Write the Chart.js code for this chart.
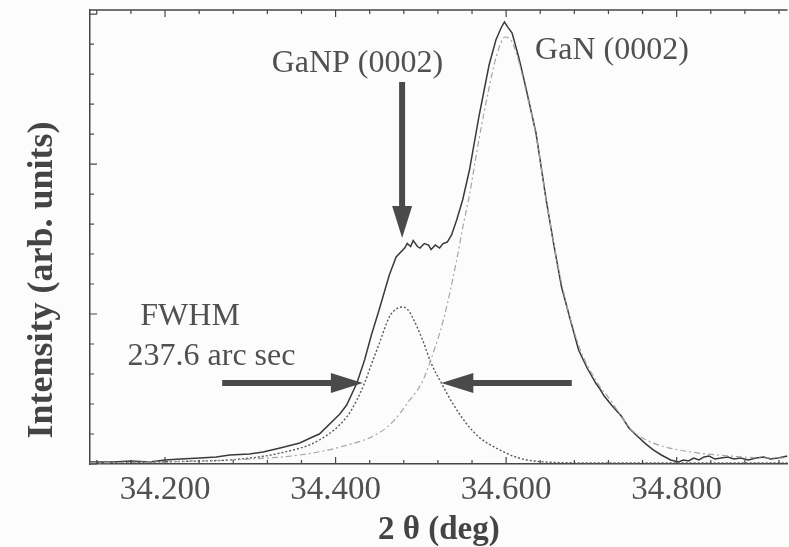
<!DOCTYPE html>
<html>
<head>
<meta charset="utf-8">
<script src="https://cdn.jsdelivr.net/npm/chart.js@4.4.1/dist/chart.umd.min.js"></script>
<style>
  html, body { margin: 0; padding: 0; background: #fcfcfc; }
  canvas { display: block; }
</style>
</head>
<body>
<canvas id="xrd-chart" width="789" height="547"></canvas>
<script>
// 2theta (deg) / intensity (arb. units)
const measuredTheta = [34.112, 34.139, 34.160, 34.182, 34.200, 34.218, 34.241, 34.260, 34.276, 34.299,
    34.315, 34.335, 34.358, 34.373, 34.381, 34.405, 34.413, 34.425, 34.434, 34.442,
    34.451, 34.463, 34.471, 34.481, 34.484, 34.488, 34.491, 34.496, 34.499, 34.504,
    34.509, 34.512, 34.517, 34.522, 34.526, 34.531, 34.536, 34.542, 34.549, 34.557,
    34.568, 34.580, 34.588, 34.594, 34.598, 34.602, 34.607, 34.615, 34.623, 34.635,
    34.647, 34.656, 34.665, 34.676, 34.685, 34.695, 34.705, 34.710, 34.715, 34.724,
    34.735, 34.744, 34.753, 34.764, 34.773, 34.782, 34.793, 34.802, 34.808, 34.814,
    34.820, 34.826, 34.832, 34.838, 34.845, 34.852, 34.860, 34.867, 34.875, 34.884,
    34.893, 34.902, 34.910, 34.919, 34.930];
const measuredIntensity = [0.013, 0.013, 0.02, 0.013, 0.027, 0.033, 0.04, 0.047, 0.06, 0.067,
    0.08, 0.107, 0.14, 0.18, 0.20, 0.333, 0.393, 0.54, 0.693, 0.86,
    1.027, 1.26, 1.38, 1.44, 1.47, 1.45, 1.49, 1.45, 1.44, 1.47,
    1.46, 1.43, 1.46, 1.44, 1.47, 1.48, 1.527, 1.627, 1.76, 1.96,
    2.313, 2.66, 2.827, 2.907, 2.947, 2.913, 2.873, 2.707, 2.513, 2.207,
    1.76, 1.46, 1.18, 0.947, 0.76, 0.64, 0.54, 0.50, 0.453, 0.39,
    0.32, 0.24, 0.19, 0.133, 0.093, 0.06, 0.027, 0.013, 0.027, 0.02,
    0.04, 0.027, 0.047, 0.053, 0.033, 0.04, 0.047, 0.033, 0.04, 0.027,
    0.04, 0.047, 0.033, 0.04, 0.053];

// GaN (0002) fitted component
const ganFitTheta = [34.112, 34.182, 34.241, 34.299, 34.358, 34.405, 34.451, 34.469, 34.487, 34.501,
    34.512, 34.527, 34.542, 34.549, 34.557, 34.568, 34.580, 34.589, 34.599, 34.607,
    34.615, 34.623, 34.635, 34.647, 34.665, 34.685, 34.705, 34.724, 34.747, 34.767,
    34.787, 34.826, 34.864, 34.904, 34.930];
const ganFitIntensity = [0.007, 0.013, 0.02, 0.033, 0.06, 0.113, 0.207, 0.293, 0.427, 0.54,
    0.70, 0.973, 1.36, 1.573, 1.793, 2.16, 2.507, 2.727, 2.847, 2.813,
    2.68, 2.493, 2.193, 1.76, 1.207, 0.793, 0.56, 0.413, 0.227, 0.153,
    0.113, 0.073, 0.053, 0.04, 0.04];

// GaNP (0002) fitted component
const ganpFitTheta = [34.112, 34.182, 34.241, 34.276, 34.335, 34.381, 34.413, 34.425, 34.434, 34.443,
    34.451, 34.463, 34.471, 34.478, 34.484, 34.490, 34.502, 34.512, 34.524, 34.537,
    34.553, 34.568, 34.588, 34.615, 34.647, 34.709, 34.826, 34.930];
const ganpFitIntensity = [0.007, 0.013, 0.02, 0.027, 0.073, 0.16, 0.313, 0.427, 0.54, 0.68,
    0.80, 0.98, 1.033, 1.047, 1.033, 0.98, 0.827, 0.673, 0.54, 0.407,
    0.273, 0.18, 0.107, 0.04, 0.013, 0.007, 0.007, 0.007];

// tick marks (drawn inward, like the original frame)
const majorTicks = [34.2, 34.4, 34.6, 34.8];
const thetaTicks = [34.12, 34.16, 34.2, 34.24, 34.28, 34.32, 34.36, 34.4, 34.44, 34.48, 34.52,
    34.56, 34.6, 34.64, 34.68, 34.72, 34.76, 34.8, 34.84, 34.88, 34.92];
const intensityMajors = [0, 1, 2, 3];
const intensityTicks = [0, 0.2, 0.4, 0.6, 0.8, 1, 1.2, 1.4, 1.6, 1.8, 2, 2.2, 2.4, 2.6, 2.8, 3];

const INK = '#464646';
const TEXT = '#505050';
const SERIF = '"Liberation Serif", "DejaVu Serif", serif';

// annotations, in data units
const notes = [
    { text: 'GaNP (0002)', x: 34.325, y: 2.613 },
    { text: 'GaN (0002)', x: 34.634, y: 2.70 },
    { text: 'FWHM', x: 34.171, y: 0.927 },
    { text: '237.6 arc sec', x: 34.156, y: 0.66 }
];
const arrows = [
    { from: [34.478, 2.547], to: [34.478, 1.507] },
    { from: [34.267, 0.54], to: [34.432, 0.54] },
    { from: [34.677, 0.54], to: [34.524, 0.54] }
];

function toPoints(xs, ys) {
    return xs.map((v, i) => ({ x: v, y: ys[i] }));
}

function drawArrow(ctx, x0, y0, x1, y1) {
    const headLen = 32, headHalf = 10;
    const ang = Math.atan2(y1 - y0, x1 - x0);
    const bx = x1 - Math.cos(ang) * headLen;
    const by = y1 - Math.sin(ang) * headLen;
    ctx.lineWidth = 6;
    ctx.beginPath();
    ctx.moveTo(x0, y0);
    ctx.lineTo(bx + Math.cos(ang) * 4, by + Math.sin(ang) * 4);
    ctx.stroke();
    ctx.beginPath();
    ctx.moveTo(x1, y1);
    ctx.lineTo(bx - Math.sin(ang) * headHalf, by + Math.cos(ang) * headHalf);
    ctx.lineTo(bx + Math.sin(ang) * headHalf, by - Math.cos(ang) * headHalf);
    ctx.closePath();
    ctx.fill();
}

const frameAndNotes = {
    id: 'frameAndNotes',
    afterDraw(chart) {
        const { ctx, chartArea: area, scales: { x, y } } = chart;
        ctx.save();
        ctx.strokeStyle = INK;
        ctx.fillStyle = INK;
        ctx.lineWidth = 1.5;

        // top frame line
        ctx.beginPath();
        ctx.moveTo(area.left, area.top);
        ctx.lineTo(area.right, area.top);
        ctx.stroke();

        // inward ticks
        ctx.lineWidth = 1.2;
        ctx.beginPath();
        thetaTicks.forEach(v => {
            const px = x.getPixelForValue(v);
            const len = majorTicks.includes(v) ? 7 : 4;
            ctx.moveTo(px, area.bottom);
            ctx.lineTo(px, area.bottom - len);
            ctx.moveTo(px, area.top);
            ctx.lineTo(px, area.top + len);
        });
        intensityTicks.forEach(v => {
            const py = y.getPixelForValue(v);
            const len = intensityMajors.includes(v) ? 7 : 4;
            ctx.moveTo(area.left, py);
            ctx.lineTo(area.left + len, py);
        });
        ctx.stroke();

        // arrows
        ctx.strokeStyle = '#4a4a4a';
        ctx.fillStyle = '#4a4a4a';
        arrows.forEach(a => {
            drawArrow(ctx,
                x.getPixelForValue(a.from[0]), y.getPixelForValue(a.from[1]),
                x.getPixelForValue(a.to[0]), y.getPixelForValue(a.to[1]));
        });

        // text labels
        ctx.fillStyle = TEXT;
        ctx.font = '32px ' + SERIF;
        ctx.textBaseline = 'alphabetic';
        ctx.textAlign = 'left';
        notes.forEach(n => {
            ctx.fillText(n.text, x.getPixelForValue(n.x), y.getPixelForValue(n.y));
        });

        // y axis title, placed like the original (not centred on the frame)
        ctx.fillStyle = '#444';
        ctx.font = 'bold 36px ' + SERIF;
        ctx.textAlign = 'center';
        ctx.textBaseline = 'middle';
        ctx.translate(area.left - 47, area.top + 270);
        ctx.rotate(-Math.PI / 2);
        ctx.fillText('Intensity (arb. units)', 0, 0);
        ctx.restore();
    }
};

const ctx = document.getElementById('xrd-chart').getContext('2d');
const chart = new Chart(ctx, {
    type: 'line',
    data: {
        datasets: [
            {
                label: 'GaN fit',
                data: toPoints(ganFitTheta, ganFitIntensity),
                borderColor: '#a5a5a5',
                borderWidth: 1.2,
                borderDash: [6, 3, 2, 3],
                cubicInterpolationMode: 'monotone',
                pointRadius: 0
            },
            {
                label: 'GaNP fit',
                data: toPoints(ganpFitTheta, ganpFitIntensity),
                borderColor: '#5a5a5a',
                borderWidth: 1.4,
                borderDash: [2, 2],
                cubicInterpolationMode: 'monotone',
                pointRadius: 0
            },
            {
                label: 'Measured',
                data: toPoints(measuredTheta, measuredIntensity),
                borderColor: '#3a3a3a',
                borderWidth: 1.5,
                tension: 0,
                pointRadius: 0
            }
        ]
    },
    options: {
        responsive: false,
        animation: false,
        layout: { padding: { left: 90, top: 10, right: 0, bottom: 0 } },
        plugins: {
            legend: { display: false },
            tooltip: { enabled: false }
        },
        scales: {
            x: {
                type: 'linear',
                min: 34.112,
                max: 34.93,
                afterBuildTicks: scale => {
                    scale.ticks = thetaTicks.map(v => ({ value: v }));
                },
                ticks: {
                    autoSkip: false,
                    maxRotation: 0,
                    minRotation: 0,
                    padding: 10,
                    color: TEXT,
                    font: { family: SERIF, size: 33, lineHeight: 1 },
                    callback: v => majorTicks.includes(v) ? v.toFixed(3) : ''
                },
                grid: { display: false, drawTicks: false },
                border: { display: true, color: INK, width: 1.5 },
                title: {
                    display: true,
                    text: '2 θ (deg)',
                    color: '#444',
                    font: { family: SERIF, size: 33, weight: 'bold', lineHeight: 1 },
                    padding: { top: -3, bottom: 0 }
                }
            },
            y: {
                type: 'linear',
                min: 0,
                max: 3.027,
                ticks: { display: false },
                grid: { display: false, drawTicks: false },
                border: { display: true, color: INK, width: 1.5 }
            }
        }
    },
    plugins: [frameAndNotes]
});
</script>
</body>
</html>
